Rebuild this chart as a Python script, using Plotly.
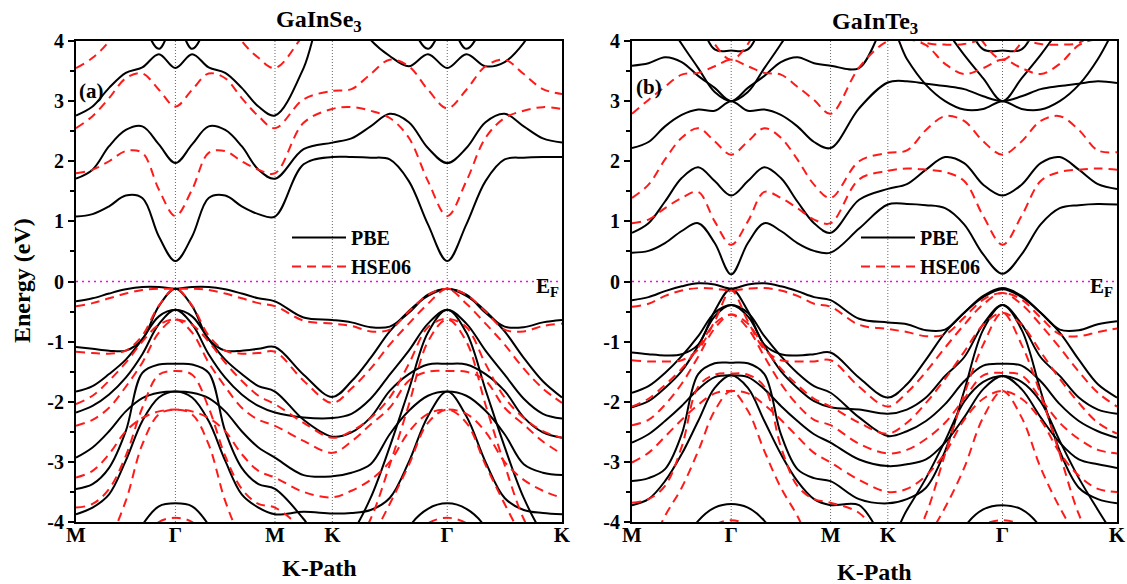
import plotly.graph_objects as go

FIG_W, FIG_H = 1127, 584

# ---------------- k-path (sample positions along M-Γ-M-K-Γ-K) ----------------
k_grid = [0.0, 0.096, 0.192, 0.289, 0.385, 0.481, 0.577,
          0.674, 0.770, 0.866, 0.962, 1.059, 1.155,
          1.321, 1.488,
          1.599, 1.710, 1.821, 1.932, 2.043, 2.155,
          2.266, 2.377, 2.488, 2.599, 2.710, 2.821]
sym_k = [0.0, 0.577, 1.155, 1.488, 2.155, 2.821]
sym_labels = ["M", "Γ", "M", "K", "Γ", "K"]
y_tick_vals = [-4, -3, -2, -1, 0, 1, 2, 3, 4]
y_tick_text = ["-4", "-3", "-2", "-1", "0", "1", "2", "3", "4"]
y_minor_vals = [-3.5, -2.5, -1.5, -0.5, 0.5, 1.5, 2.5, 3.5]

# ---------------- GaInSe3 : PBE (eV) ----------------
se_pbe_c1 = [1.08, 1.12, 1.25, 1.43, 1.39, 0.75, 0.34, 0.75, 1.39, 1.43, 1.25, 1.12, 1.08, 1.95, 2.07,
             2.07, 2.06, 2.03, 1.67, 0.95, 0.34, 0.95, 1.67, 2.03, 2.06, 2.07, 2.07]
se_pbe_c2 = [1.71, 1.86, 2.25, 2.52, 2.58, 2.28, 1.97, 2.28, 2.58, 2.52, 2.25, 1.86, 1.71, 2.2, 2.31,
             2.38, 2.58, 2.79, 2.65, 2.22, 1.97, 2.22, 2.65, 2.79, 2.58, 2.38, 2.31]
se_pbe_c3 = [2.76, 2.91, 3.22, 3.47, 3.56, 3.78, 3.55, 3.78, 3.56, 3.47, 3.22, 2.91, 2.76, 3.55, 5.0,
             4.5, 4.02, 3.75, 3.58, 3.78, 3.55, 3.78, 3.58, 3.65, 3.97, 4.5, 5.0]
se_pbe_c4 = [6, 6, 6, 6, 4.4, 3.87, 4.3, 3.87, 4.4, 6, 6, 6, 6, 6, 6,
             6, 6, 6, 4.4, 3.87, 4.3, 3.87, 4.4, 6, 6, 6, 6]
se_pbe_v1 = [-0.33, -0.28, -0.2, -0.13, -0.09, -0.09, -0.12, -0.09, -0.09, -0.13, -0.2, -0.28, -0.33, -0.6, -0.64,
             -0.68, -0.76, -0.75, -0.52, -0.22, -0.12, -0.22, -0.52, -0.75, -0.76, -0.68, -0.64]
se_pbe_v2 = [-1.09, -1.12, -1.15, -1.15, -0.96, -0.41, -0.12, -0.41, -0.96, -1.15, -1.15, -1.12, -1.09, -1.55, -1.92,
             -1.66, -1.27, -0.83, -0.49, -0.24, -0.12, -0.24, -0.49, -0.83, -1.27, -1.66, -1.93]
se_pbe_v3 = [-1.83, -1.74, -1.54, -1.3, -0.96, -0.58, -0.47, -0.58, -0.96, -1.3, -1.54, -1.74, -1.83, -2.3, -2.58,
             -2.51, -2.26, -1.82, -1.54, -1.38, -1.37, -1.38, -1.54, -1.82, -2.26, -2.51, -2.6]
se_pbe_v4 = [-2.18, -2.07, -1.88, -1.6, -1.21, -0.71, -0.47, -0.71, -1.21, -1.6, -1.88, -2.07, -2.18, -2.26, -2.27,
             -2.2, -1.95, -1.55, -1.15, -0.7, -0.47, -0.7, -1.15, -1.55, -1.95, -2.2, -2.28]
se_pbe_v5 = [-3.45, -3.37, -3.1, -2.49, -1.52, -1.38, -1.37, -1.38, -1.52, -2.49, -3.1, -3.37, -3.45, -3.95, -4.6,
             -4.2, -3.6, -2.75, -1.8, -0.85, -0.47, -0.85, -1.8, -2.75, -3.6, -4.2, -4.6]
se_pbe_v6 = [-2.93, -2.76, -2.49, -2.16, -1.94, -1.85, -1.83, -1.85, -1.94, -2.16, -2.49, -2.76, -2.93, -3.22, -3.24,
             -3.18, -3.04, -2.54, -2.15, -1.9, -1.83, -1.9, -2.15, -2.54, -3.04, -3.18, -3.22]
se_pbe_v7 = [-3.87, -3.76, -3.54, -2.98, -2.32, -1.93, -1.83, -1.93, -2.32, -2.98, -3.54, -3.76, -3.87, -3.83, -3.86,
             -3.85, -3.8, -3.6, -3.0, -2.24, -1.83, -2.24, -3.0, -3.6, -3.8, -3.85, -3.87]
se_pbe_v8 = [-6, -6, -5.5, -4.6, -4.05, -3.74, -3.69, -3.74, -4.05, -4.6, -5.5, -6, -6, -6, -6,
             -6, -6, -5.2, -4.1, -3.78, -3.69, -3.78, -4.1, -5.2, -6, -6, -6]

# ---------------- GaInSe3 : HSE06 (eV) ----------------
se_hse_c1 = [1.8, 1.86, 2.0, 2.17, 2.14, 1.53, 1.09, 1.53, 2.14, 2.17, 2.0, 1.86, 1.8, 2.64, 2.87,
             2.9, 2.84, 2.72, 2.39, 1.67, 1.09, 1.67, 2.39, 2.72, 2.84, 2.9, 2.87]
se_hse_c2 = [2.55, 2.75, 3.05, 3.38, 3.46, 3.19, 2.91, 3.19, 3.46, 3.38, 3.05, 2.75, 2.55, 3.03, 3.17,
             3.2, 3.45, 3.69, 3.58, 3.19, 2.88, 3.19, 3.58, 3.69, 3.45, 3.2, 3.12]
se_hse_c3 = [3.55, 3.72, 4.0, 4.5, 5.0, 5.5, 5.5, 5.5, 5.0, 4.5, 4.0, 3.72, 3.55, 4.1, 4.7,
             5.2, 5.5, 5.5, 5.5, 5.5, 5.5, 5.5, 5.5, 5.5, 5.5, 5.5, 5.5]
se_hse_v1 = [-0.41, -0.36, -0.28, -0.2, -0.14, -0.12, -0.12, -0.12, -0.14, -0.2, -0.28, -0.36, -0.41, -0.65, -0.7,
             -0.74, -0.83, -0.8, -0.5, -0.22, -0.12, -0.22, -0.5, -0.8, -0.83, -0.74, -0.7]
se_hse_v2 = [-1.17, -1.19, -1.2, -1.15, -0.9, -0.4, -0.12, -0.4, -0.9, -1.15, -1.2, -1.19, -1.17, -1.65, -2.02,
             -1.78, -1.45, -1.05, -0.7, -0.37, -0.12, -0.37, -0.7, -1.05, -1.45, -1.78, -2.02]
se_hse_v3 = [-2.04, -1.9, -1.65, -1.35, -1.0, -0.72, -0.63, -0.72, -1.0, -1.35, -1.65, -1.9, -2.04, -2.35, -2.6,
             -2.49, -2.27, -1.93, -1.37, -0.76, -0.62, -0.76, -1.37, -1.93, -2.27, -2.49, -2.6]
se_hse_v4 = [-2.4, -2.3, -2.1, -1.75, -1.35, -0.85, -0.63, -0.85, -1.35, -1.75, -2.1, -2.3, -2.4, -2.65, -2.85,
             -2.66, -2.38, -2.1, -1.65, -1.5, -1.49, -1.5, -1.65, -2.1, -2.38, -2.66, -2.87]
se_hse_v5 = [-3.76, -3.7, -3.45, -2.9, -2.1, -1.55, -1.49, -1.55, -2.1, -2.9, -3.45, -3.7, -3.76, -4.15, -4.8,
             -4.5, -3.95, -3.05, -2.05, -1.0, -0.63, -1.0, -2.05, -3.05, -3.95, -4.5, -4.8]
se_hse_v6 = [-3.26, -3.15, -2.87, -2.49, -2.27, -2.16, -2.13, -2.16, -2.27, -2.49, -2.87, -3.15, -3.26, -3.5, -3.59,
             -3.48, -3.3, -3.0, -2.5, -2.2, -2.13, -2.2, -2.5, -3.0, -3.3, -3.48, -3.6]
se_hse_v7 = [-5.0, -4.7, -4.3, -3.65, -2.71, -2.21, -2.13, -2.21, -2.71, -3.65, -4.3, -4.7, -5.0, -5.0, -5.0,
             -4.8, -4.3, -3.7, -3.05, -2.35, -2.13, -2.35, -3.05, -3.7, -4.3, -4.8, -5.0]
se_hse_v8 = [-6, -6, -6, -5, -4.3, -4.0, -3.93, -4.0, -4.3, -5, -6, -6, -6, -6, -6,
             -6, -6, -5, -4.3, -4.02, -3.93, -4.02, -4.3, -5, -6, -6, -6]

# ---------------- GaInTe3 : PBE (eV) ----------------
te_pbe_c1 = [0.48, 0.51, 0.64, 0.84, 0.97, 0.64, 0.12, 0.64, 0.97, 0.84, 0.64, 0.51, 0.48, 0.88, 1.28,
             1.29, 1.27, 1.22, 0.95, 0.45, 0.13, 0.45, 0.95, 1.22, 1.27, 1.29, 1.28]
te_pbe_c2 = [0.81, 0.97, 1.33, 1.72, 1.9, 1.67, 1.43, 1.67, 1.9, 1.72, 1.33, 0.97, 0.81, 1.36, 1.54,
             1.62, 1.86, 2.07, 1.97, 1.61, 1.43, 1.61, 1.97, 2.07, 1.86, 1.62, 1.54]
te_pbe_c3 = [2.22, 2.32, 2.58, 2.77, 2.86, 2.84, 3.0, 2.84, 2.86, 2.77, 2.58, 2.32, 2.22, 2.88, 3.31,
             3.33, 3.29, 3.25, 3.2, 3.08, 3.0, 3.08, 3.2, 3.25, 3.29, 3.33, 3.3]
te_pbe_c4 = [3.59, 3.63, 3.73, 3.65, 3.42, 3.22, 3.0, 3.22, 3.42, 3.65, 3.73, 3.63, 3.59, 3.55, 4.3,
             3.7, 3.27, 3.0, 2.86, 2.87, 3.0, 2.87, 2.86, 3.0, 3.27, 3.7, 4.3]
te_pbe_c5 = [6, 6, 4.4, 3.95, 3.55, 3.15, 3.0, 3.15, 3.55, 3.95, 4.4, 6, 6, 6, 6,
             6, 4.6, 4.2, 3.77, 3.38, 3.0, 3.38, 3.77, 4.2, 4.6, 6, 6]
te_pbe_c6 = [6, 6, 6, 6, 4.5, 3.86, 3.84, 3.86, 4.5, 6, 6, 6, 6, 6, 6,
             6, 6, 6, 4.5, 3.86, 3.84, 3.86, 4.5, 6, 6, 6, 6]
te_pbe_v1 = [-0.31, -0.26, -0.16, -0.08, -0.03, -0.05, -0.12, -0.05, -0.03, -0.08, -0.16, -0.26, -0.31, -0.62, -0.68,
             -0.71, -0.81, -0.8, -0.52, -0.24, -0.11, -0.24, -0.52, -0.8, -0.81, -0.71, -0.66]
te_pbe_v2 = [-1.18, -1.21, -1.23, -1.21, -1.05, -0.49, -0.12, -0.49, -1.05, -1.21, -1.23, -1.21, -1.18, -1.6, -1.93,
             -1.71, -1.3, -0.85, -0.52, -0.26, -0.13, -0.26, -0.52, -0.85, -1.3, -1.71, -1.93]
te_pbe_v3 = [-1.85, -1.74, -1.52, -1.24, -0.91, -0.52, -0.39, -0.52, -0.91, -1.24, -1.52, -1.74, -1.85, -2.26, -2.57,
             -2.49, -2.32, -2.04, -1.66, -1.4, -1.37, -1.4, -1.66, -2.04, -2.32, -2.49, -2.6]
te_pbe_v4 = [-2.09, -1.99, -1.77, -1.49, -1.07, -0.58, -0.39, -0.58, -1.07, -1.49, -1.77, -1.99, -2.09, -2.13, -2.2,
             -2.13, -1.93, -1.57, -1.26, -0.71, -0.39, -0.71, -1.26, -1.57, -1.93, -2.13, -2.2]
te_pbe_v5 = [-3.32, -3.27, -3.12, -2.54, -1.54, -1.36, -1.35, -1.36, -1.54, -2.54, -3.12, -3.27, -3.32, -3.62, -3.69,
             -3.62, -3.43, -2.82, -1.82, -0.8, -0.39, -0.8, -1.82, -2.82, -3.43, -3.62, -3.69]
te_pbe_v6 = [-2.68, -2.54, -2.32, -2.07, -1.79, -1.59, -1.56, -1.59, -1.79, -2.07, -2.32, -2.54, -2.68, -2.96, -3.07,
             -3.04, -2.96, -2.68, -2.26, -1.79, -1.57, -1.79, -2.26, -2.68, -2.96, -3.04, -3.1]
te_pbe_v7 = [-3.72, -3.62, -3.32, -2.87, -2.32, -1.77, -1.56, -1.77, -2.32, -2.87, -3.32, -3.62, -3.72, -3.72, -4.3,
             -3.8, -3.27, -2.65, -2.0, -1.67, -1.57, -1.67, -2.0, -2.65, -3.27, -3.8, -4.3]
te_pbe_v8 = [-6, -6, -6, -4.4, -3.98, -3.76, -3.7, -3.76, -3.98, -4.4, -6, -6, -6, -6, -6,
             -6, -6, -5, -4.1, -3.79, -3.72, -3.79, -4.1, -5, -6, -6, -6]

# ---------------- GaInTe3 : HSE06 (eV) ----------------
te_hse_c1 = [0.97, 1.03, 1.22, 1.39, 1.49, 1.0, 0.61, 1.0, 1.49, 1.39, 1.22, 1.03, 0.97, 1.7, 1.84,
             1.88, 1.86, 1.82, 1.67, 1.09, 0.61, 1.09, 1.67, 1.82, 1.86, 1.88, 1.86]
te_hse_c2 = [1.39, 1.61, 2.03, 2.39, 2.55, 2.33, 2.11, 2.33, 2.55, 2.39, 2.03, 1.61, 1.39, 2.0, 2.14,
             2.18, 2.52, 2.75, 2.67, 2.33, 2.11, 2.33, 2.67, 2.75, 2.52, 2.18, 2.15]
te_hse_c3 = [2.79, 3.02, 3.24, 3.44, 3.47, 3.58, 3.69, 3.58, 3.47, 3.44, 3.24, 3.02, 2.79, 3.56, 4.0,
             4.03, 3.93, 3.62, 3.45, 3.55, 3.69, 3.55, 3.45, 3.62, 3.93, 4.03, 4.0]
te_hse_c4 = [6, 6, 6, 6, 4.6, 3.95, 3.69, 3.95, 4.6, 6, 6, 6, 6, 6, 6,
             6, 6, 6, 4.6, 3.98, 3.69, 3.98, 4.6, 6, 6, 6, 6]
te_hse_c5 = [6, 6, 6, 6, 6, 6, 6, 6, 6, 6, 6, 6, 6, 6, 4.5,
             4.2, 3.97, 3.94, 3.95, 4.05, 4.3, 4.05, 3.95, 3.94, 3.97, 4.2, 4.5]
te_hse_v1 = [-0.42, -0.37, -0.24, -0.15, -0.11, -0.12, -0.15, -0.12, -0.11, -0.15, -0.24, -0.37, -0.42, -0.72, -0.79,
             -0.84, -0.91, -0.88, -0.6, -0.3, -0.19, -0.3, -0.6, -0.88, -0.91, -0.84, -0.78]
te_hse_v2 = [-1.31, -1.33, -1.33, -1.31, -1.13, -0.66, -0.15, -0.66, -1.13, -1.31, -1.33, -1.33, -1.31, -1.75, -2.08,
             -1.85, -1.5, -1.1, -0.72, -0.38, -0.19, -0.38, -0.72, -1.1, -1.5, -1.85, -2.08]
te_hse_v3 = [-2.08, -1.95, -1.72, -1.45, -1.1, -0.7, -0.55, -0.7, -1.1, -1.45, -1.72, -1.95, -2.08, -2.35, -2.53,
             -2.35, -2.02, -1.62, -1.17, -0.72, -0.52, -0.72, -1.17, -1.62, -2.02, -2.35, -2.53]
te_hse_v4 = [-2.39, -2.3, -2.05, -1.7, -1.25, -0.78, -0.55, -0.78, -1.25, -1.7, -2.05, -2.3, -2.39, -2.7, -2.86,
             -2.8, -2.62, -2.35, -1.95, -1.56, -1.52, -1.56, -1.95, -2.35, -2.62, -2.8, -2.86]
te_hse_v5 = [-3.68, -3.62, -3.4, -2.75, -1.75, -1.55, -1.53, -1.55, -1.75, -2.75, -3.4, -3.62, -3.68, -3.85, -4.4,
             -4.5, -3.87, -2.87, -1.88, -1.05, -0.52, -1.05, -1.88, -2.87, -3.87, -4.5, -4.4]
te_hse_v6 = [-3.01, -2.85, -2.58, -2.3, -2.05, -1.86, -1.82, -1.86, -2.05, -2.3, -2.58, -2.85, -3.01, -3.3, -3.5,
             -3.45, -3.23, -2.85, -2.3, -1.95, -1.82, -1.95, -2.3, -2.85, -3.23, -3.45, -3.5]
te_hse_v7 = [-5.0, -4.5, -3.9, -3.43, -2.82, -2.15, -1.82, -2.15, -2.82, -3.43, -3.9, -4.5, -5.0, -5.0, -5.0,
             -4.8, -4.3, -3.76, -3.1, -2.26, -1.82, -2.26, -3.1, -3.76, -4.3, -4.8, -5.0]
te_hse_v8 = [-6, -6, -6, -5, -4.3, -4.05, -3.97, -4.05, -4.3, -5, -6, -6, -6, -6, -6,
             -6, -6, -5, -4.3, -4.05, -3.97, -4.05, -4.3, -5, -6, -6, -6]

se_pbe = [se_pbe_c1, se_pbe_c2, se_pbe_c3, se_pbe_c4, se_pbe_v1, se_pbe_v2, se_pbe_v3,
          se_pbe_v4, se_pbe_v5, se_pbe_v6, se_pbe_v7, se_pbe_v8]
se_hse = [se_hse_c1, se_hse_c2, se_hse_c3, se_hse_v1, se_hse_v2, se_hse_v3, se_hse_v4,
          se_hse_v5, se_hse_v6, se_hse_v7, se_hse_v8]
te_pbe = [te_pbe_c1, te_pbe_c2, te_pbe_c3, te_pbe_c4, te_pbe_c5, te_pbe_c6, te_pbe_v1, te_pbe_v2,
          te_pbe_v3, te_pbe_v4, te_pbe_v5, te_pbe_v6, te_pbe_v7, te_pbe_v8]
te_hse = [te_hse_c1, te_hse_c2, te_hse_c3, te_hse_c4, te_hse_c5, te_hse_v1, te_hse_v2, te_hse_v3,
          te_hse_v4, te_hse_v5, te_hse_v6, te_hse_v7, te_hse_v8]

for b in se_pbe + se_hse + te_pbe + te_hse:
    assert len(b) == len(k_grid), len(b)

FONT = "Liberation Serif"
BLACK = "#000000"
RED = "#ff1a1a"


def px_x(p):
    return p / FIG_W


def px_y(p):
    return 1 - p / FIG_H


fig = go.Figure()


def add_bands(bands, color, dash, xa, ya, name, legend, group):
    for i, band in enumerate(bands):
        fig.add_trace(go.Scatter(
            x=k_grid, y=band, mode="lines",
            line=dict(color=color, width=2, dash=dash, shape="spline", smoothing=1.0),
            xaxis=xa, yaxis=ya, name=name, legend=legend, legendgroup=group,
            showlegend=(i == 0), hoverinfo="skip"))


add_bands(se_pbe, BLACK, "solid", "x", "y", "PBE", "legend", "g1")
add_bands(se_hse, RED, "9px,6px", "x", "y", "HSE06", "legend", "g1")
add_bands(te_pbe, BLACK, "solid", "x2", "y2", "PBE", "legend2", "g2")
add_bands(te_hse, RED, "9px,6px", "x2", "y2", "HSE06", "legend2", "g2")

xaxis_common = dict(
    range=[sym_k[0], sym_k[-1]], tickmode="array", tickvals=sym_k, ticktext=sym_labels,
    ticks="", showline=True, linecolor=BLACK, linewidth=2, mirror=True,
    showgrid=False, zeroline=False, automargin=False, ticklabelstandoff=-7,
    tickfont=dict(family=FONT, size=21, color=BLACK, weight="bold"),
)
yaxis_common = dict(
    range=[-4, 4], tickmode="array", tickvals=y_tick_vals, ticktext=y_tick_text,
    ticks="outside", ticklen=6, tickwidth=1.5, tickcolor=BLACK,
    minor=dict(tickmode="array", tickvals=y_minor_vals, ticks="outside", ticklen=4,
               tickwidth=1.5, tickcolor=BLACK, showgrid=False),
    showline=True, linecolor=BLACK, linewidth=2, mirror=True,
    showgrid=False, zeroline=False, automargin=False,
    tickfont=dict(family=FONT, size=20, color=BLACK, weight="bold"),
)

dom_x1 = [px_x(76), px_x(562)]
dom_x2 = [px_x(632), px_x(1117)]
dom_y = [px_y(522), px_y(41)]

legend_common = dict(xanchor="left", yanchor="top", bgcolor="rgba(0,0,0,0)", tracegroupgap=0,
                     itemwidth=54,
                     font=dict(family=FONT, size=20, color=BLACK, weight="bold"))

fig.update_layout(
    width=FIG_W, height=FIG_H,
    margin=dict(l=0, r=0, t=0, b=0, pad=0, autoexpand=False),
    paper_bgcolor="white", plot_bgcolor="white",
    font=dict(family=FONT, color=BLACK),
    xaxis=dict(domain=dom_x1, anchor="y", **xaxis_common),
    yaxis=dict(domain=dom_y, anchor="x", **yaxis_common),
    xaxis2=dict(domain=dom_x2, anchor="y2", **xaxis_common),
    yaxis2=dict(domain=dom_y, anchor="x2", **yaxis_common),
    legend=dict(x=px_x(287), y=px_y(218), **legend_common),
    legend2=dict(x=px_x(856), y=px_y(218), **legend_common),
)

shapes = []
for xa, ya in (("x", "y"), ("x2", "y2")):
    for kv in sym_k[1:-1]:
        shapes.append(dict(type="line", xref=xa, yref=ya + " domain", x0=kv, x1=kv, y0=0, y1=1,
                           line=dict(color="#666666", width=1, dash="1px,2px"), layer="below"))
    shapes.append(dict(type="line", xref=xa + " domain", yref=ya, x0=0, x1=1, y0=0, y1=0,
                       line=dict(color="#ff00ff", width=1.5, dash="2px,4px"), layer="below"))


def note(text, xp, yp, size, xanchor="center", yanchor="middle", angle=0):
    return dict(text=text, x=px_x(xp), y=px_y(yp), xref="paper", yref="paper",
                xanchor=xanchor, yanchor=yanchor, textangle=angle, showarrow=False,
                font=dict(family=FONT, size=size, color=BLACK))


annotations = [
    note("<b>GaInSe<sub>3</sub></b>", 319, 21, 24),
    note("<b>GaInTe<sub>3</sub></b>", 875, 23, 24),
    note("<b>K-Path</b>", 319, 568, 24),
    note("<b>K-Path</b>", 874, 572, 24),
    note("<b>Energy (eV)</b>", 22, 281, 24, angle=-90),
    note("<b>(a)</b>", 77, 91, 21, xanchor="left"),
    note("<b>(b)</b>", 634, 87, 21, xanchor="left"),
    note("<b>E<sub>F</sub></b>", 561, 287, 21, xanchor="right"),
    note("<b>E<sub>F</sub></b>", 1115, 287, 21, xanchor="right"),
]
fig.update_layout(shapes=shapes, annotations=annotations)

fig.write_html("out.html")
